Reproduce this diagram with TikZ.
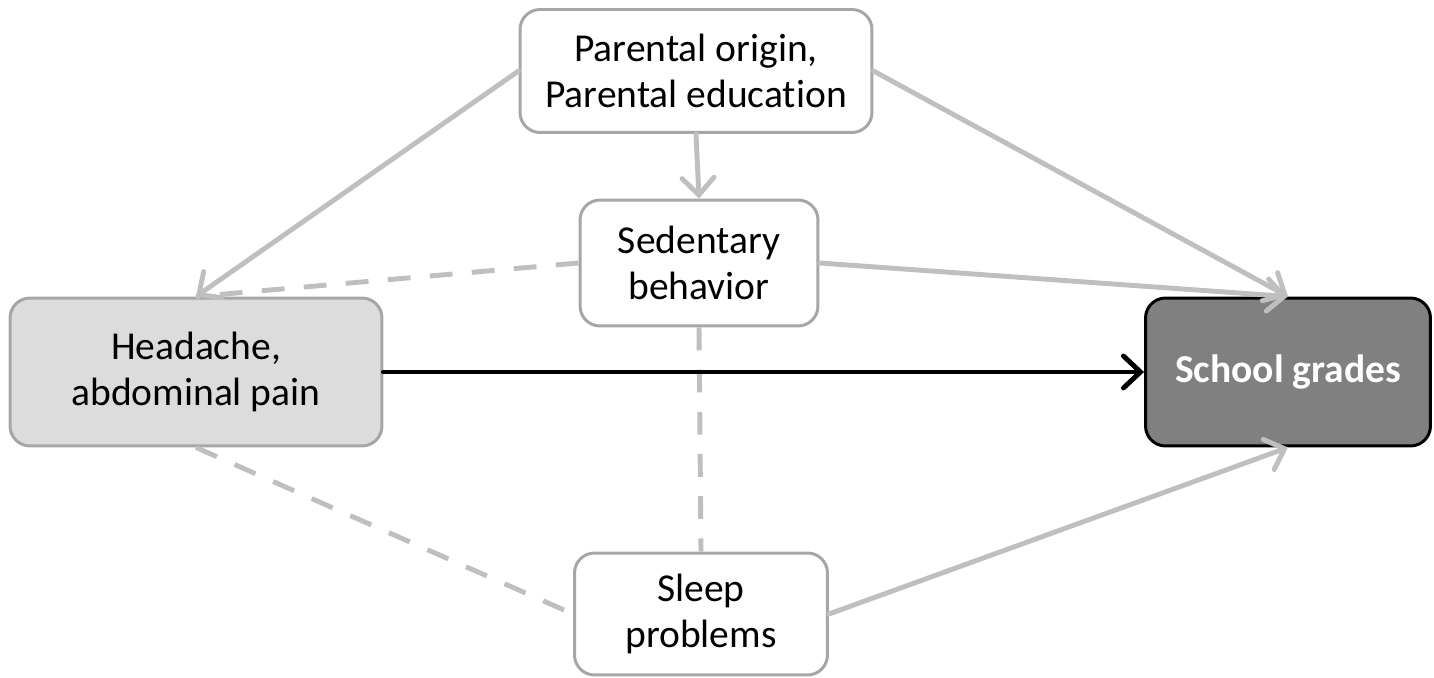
\documentclass[tikz,border=0pt]{standalone}
\usepackage{fontspec}
\setmainfont{Carlito}[Ligatures=NoCommon]
\usepackage{tikz}
\usetikzlibrary{arrows.meta}

\definecolor{linegray}{RGB}{191,191,191}
\definecolor{boxgray}{RGB}{166,166,166}
\definecolor{lightfill}{RGB}{220,220,220}
\definecolor{darkfill}{RGB}{128,128,128}

\begin{document}
\begin{tikzpicture}[x=0.02cm,y=-0.02cm,
  >={Straight Barb[length=0.34cm,width=0.64cm,line cap=round]},
  box/.style={draw=boxgray,line width=1.7pt,rounded corners=0.4cm,fill=white,
    align=center,inner sep=0pt,font=\fontsize{22.5}{26.5}\selectfont},
  link/.style={draw=linegray,line width=2.8pt,line cap=round},
  dashlink/.style={draw=linegray,line width=2.8pt,dash pattern=on 13pt off 11pt}]
\useasboundingbox (0,0) rectangle (1434,678);
\node[box,minimum width=7.04cm,minimum height=2.46cm] (parent) at (696,71)
  {Parental origin,\\Parental education};
\node[box,minimum width=4.76cm,minimum height=2.52cm] (sed) at (699,263)
  {Sedentary\\behavior};
\node[box,fill=lightfill,minimum width=7.44cm,minimum height=2.96cm] (head) at (196,372)
  {Headache,\\abdominal pain};
\node[box,draw=black,fill=darkfill,text=white,minimum width=5.7cm,minimum height=2.96cm,
  font=\fontsize{22.5}{26.5}\selectfont\bfseries] (grades) at (1288,372) {School grades};
\node[box,minimum width=5.06cm,minimum height=2.44cm] (sleep) at (701,614)
  {Sleep\\problems};
% confounder paths
\draw[link,->] (parent.west) -- (head.north);
\draw[link,->] (parent.east) -- (grades.north);
\draw[link,->] (parent.south) -- (sed.north);
\draw[link,->] (sed.east) -- (grades.north);
\draw[link,->] (sleep.east) -- (grades.south);
% associations
\draw[dashlink] (sed.west) -- (head.north);
\draw[dashlink] (sed.south) -- (sleep.north);
\draw[dashlink] (head.south) -- (sleep.west);
% main effect
\draw[->,line width=2.8pt,line cap=round] (head.east) -- (grades.west);
\end{tikzpicture}
\end{document}
